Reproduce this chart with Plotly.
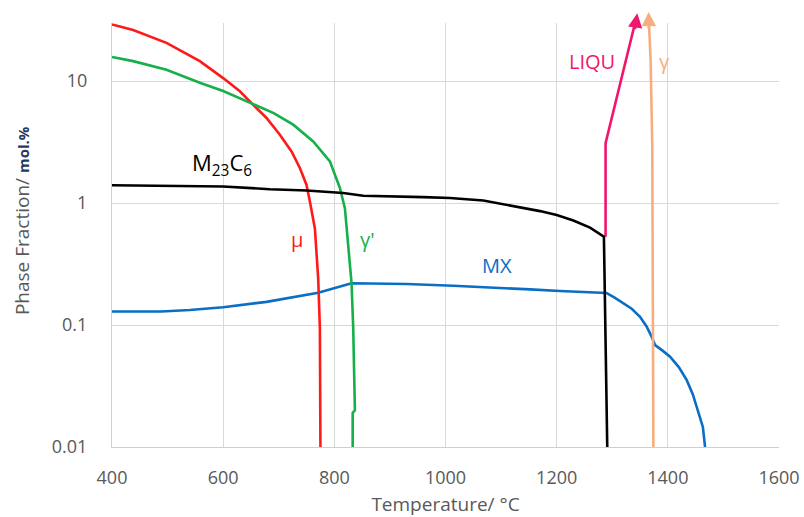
import math
import plotly.graph_objects as go

# ---- data ----
mu_T = [400, 438, 498, 558, 600, 630, 651, 678, 702, 723, 738, 750, 756, 765, 771, 774, 775]
mu_y = [29.2, 26.3, 20.6, 14.6, 10.6, 8.26, 6.6, 4.99, 3.64, 2.65, 1.94, 1.41, 1.03, 0.62, 0.24, 0.094, 0.01]

gp_T = [400, 438, 498, 558, 600, 651, 690, 726, 762, 792, 810, 819, 822, 831, 834, 837, 833, 833]
gp_y = [15.8, 14.6, 12.4, 9.7, 8.3, 6.6, 5.49, 4.4, 3.2, 2.2, 1.33, 0.91, 0.62, 0.22, 0.094, 0.02, 0.019, 0.01]

m23_T = [400, 500, 600, 684, 750, 816, 852, 960, 1008, 1068, 1128, 1170, 1200, 1230, 1260, 1285, 1291]
m23_y = [1.40, 1.39, 1.37, 1.30, 1.27, 1.21, 1.15, 1.12, 1.10, 1.05, 0.94, 0.86, 0.80, 0.72, 0.63, 0.53, 0.01]

mx_T = [400, 489, 540, 600, 678, 771, 831, 930, 1014, 1092, 1152, 1206, 1266, 1290,
        1305, 1320, 1335, 1350, 1362, 1371, 1377, 1390, 1404, 1420, 1434, 1445, 1452, 1458, 1463, 1467]
mx_y = [0.129, 0.129, 0.133, 0.140, 0.155, 0.184, 0.220, 0.217, 0.210, 0.203, 0.196, 0.190, 0.184, 0.183,
        0.167, 0.151, 0.136, 0.117, 0.097, 0.080, 0.0685, 0.062, 0.055, 0.045, 0.0353, 0.027, 0.0213,
        0.0175, 0.0146, 0.01]

liq_T = [1288, 1288, 1341]
liq_y = [0.53, 3.1, 30]

gam_T = [1374, 1372, 1369, 1366]
gam_y = [0.01, 3.0, 15, 30]

x_ticks = [400, 600, 800, 1000, 1200, 1400, 1600]
y_ticks = [0.01, 0.1, 1, 10]
y_tick_text = ["0.01", "0.1", "1", "10"]

# ---- colours ----
C_RED = "#FF1A1A"
C_GREEN = "#16B04A"
C_BLACK = "#000000"
C_BLUE = "#0A6EC4"
C_PINK = "#F0166E"
C_ORANGE = "#F6AE80"
FONT = "Open Sans"
GREY = "#595959"

fig = go.Figure()
LW = 2.6
fig.add_trace(go.Scatter(x=mx_T, y=mx_y, mode="lines", line=dict(color=C_BLUE, width=LW)))
fig.add_trace(go.Scatter(x=mu_T, y=mu_y, mode="lines", line=dict(color=C_RED, width=LW)))
fig.add_trace(go.Scatter(x=gp_T, y=gp_y, mode="lines", line=dict(color=C_GREEN, width=LW)))
fig.add_trace(go.Scatter(x=gam_T, y=gam_y, mode="lines", line=dict(color=C_ORANGE, width=LW)))
fig.add_trace(go.Scatter(x=liq_T, y=liq_y, mode="lines", line=dict(color=C_PINK, width=LW)))
fig.add_trace(go.Scatter(x=m23_T, y=m23_y, mode="lines", line=dict(color=C_BLACK, width=LW)))

L = math.log10  # annotations on a log axis take log10 positions
annotations = []
# arrow heads continuing above the plot
annotations.append(dict(x=1345, y=L(36), xref="x", yref="y", ax=1340.5, ay=L(26),
                        axref="x", ayref="y", text="", showarrow=True, arrowhead=2,
                        arrowsize=1.1, arrowwidth=LW, arrowcolor=C_PINK))
annotations.append(dict(x=1365.5, y=L(37), xref="x", yref="y", ax=1366, ay=L(26),
                        axref="x", ayref="y", text="", showarrow=True, arrowhead=2,
                        arrowsize=1.1, arrowwidth=LW, arrowcolor=C_ORANGE))

# phase labels
def lab(text, x, y, color, size=20):
    annotations.append(dict(x=x, y=L(y), xref="x", yref="y", text=text, showarrow=False,
                            font=dict(family=FONT, size=size, color=color)))

lab("M<sub>23</sub>C<sub>6</sub>", 597, 2.1, C_BLACK, 22)
lab("μ", 732, 0.50, C_RED)
lab("γ'", 860, 0.50, C_GREEN)
lab("MX", 1093, 0.31, C_BLUE)
lab("LIQU", 1263, 14.5, C_PINK)
lab("γ", 1394, 14.5, C_ORANGE)

# y-axis title
annotations.append(dict(x=-0.135, y=0.535, xref="paper", yref="paper", textangle=-90,
                        showarrow=False, xanchor="center", yanchor="middle",
                        text="Phase Fraction/ <b><span style='font-size:15px;color:#1F3864'>mol.%</span></b>",
                        font=dict(family=FONT, size=19, color=GREY)))

fig.update_layout(
    width=804, height=517,
    margin=dict(l=112, r=25, t=23, b=70, autoexpand=False),
    paper_bgcolor="white", plot_bgcolor="white",
    showlegend=False,
    annotations=annotations,
    font=dict(family=FONT, color=GREY),
)
fig.update_xaxes(range=[400, 1600], tickvals=x_ticks, showgrid=True, gridcolor="#D9D9D9",
                 gridwidth=1, showline=True, linecolor="#CFCFCF", linewidth=1.3,
                 zeroline=False, ticks="", ticklabelstandoff=14, automargin=False,
                 tickfont=dict(family=FONT, size=18, color=GREY),
                 title=dict(text="Temperature/ °C", font=dict(family=FONT, size=19, color=GREY),
                            standoff=9))
fig.update_yaxes(type="log", range=[-2, 1.477], tickvals=y_ticks, ticktext=y_tick_text,
                 showgrid=True, gridcolor="#D9D9D9", gridwidth=1, showline=True,
                 linecolor="#CFCFCF", linewidth=1.3, zeroline=False, ticks="", automargin=False,
                 ticklabelstandoff=20, tickfont=dict(family=FONT, size=18, color=GREY))

fig.write_html("out.html")
